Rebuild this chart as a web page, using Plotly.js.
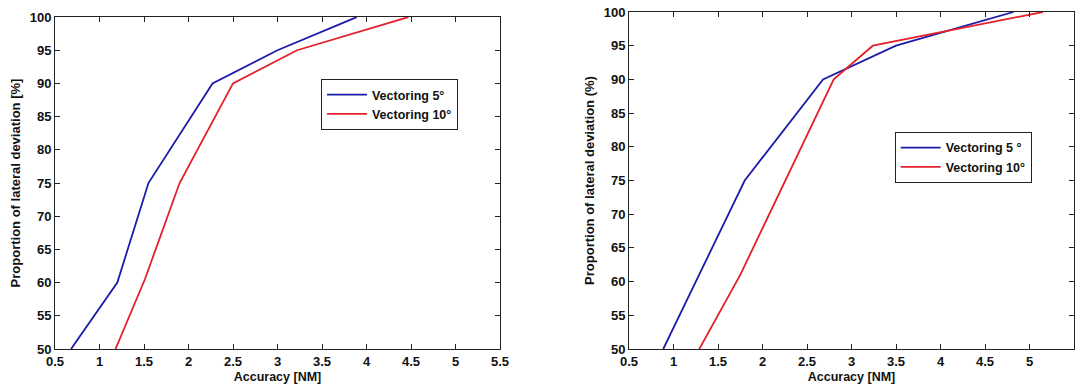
<!DOCTYPE html>
<html>
<head>
<meta charset="utf-8">
<script src="https://cdn.plot.ly/plotly-3.0.1.min.js"></script>
<style>
  html, body { margin: 0; padding: 0; background: #fff; }
  #chart { width: 1082px; height: 387px; }
</style>
</head>
<body>
<div id="chart"></div>
<script>
// Left panel data
const leftAcc5 = [0.68, 1.2, 1.55, 2.27, 3.0, 3.89];
const leftProp5 = [50, 60, 75, 90, 95, 100];
const leftAcc10 = [1.18, 1.51, 1.9, 2.5, 3.22, 4.47];
const leftProp10 = [50, 60.5, 75, 90, 95, 100];

// Right panel data
const rightAcc5 = [0.885, 1.8, 2.68, 3.5, 4.82];
const rightProp5 = [50, 75, 90, 95, 100];
const rightAcc10 = [1.29, 1.75, 2.8, 3.24, 5.15];
const rightProp10 = [50, 61, 90, 95, 100];

// Labels
const leftNames = ["Vectoring 5°", "Vectoring 10°"];
const rightNames = ["Vectoring 5 °", "Vectoring 10°"];
const xTitle = "Accuracy [NM]";
const leftYTitle = "Proportion of lateral deviation [%]";
const rightYTitle = "Proportion of lateral deviation (%)";

const BLUE = "#1c1ca8";
const RED = "#e3202c";
const FONT = "Liberation Sans, Arial, sans-serif";
const b = s => "<b>" + s + "</b>";

const traces = [
  {x: leftAcc5, y: leftProp5, name: b(leftNames[0]), mode: "lines", xaxis: "x", yaxis: "y",
   line: {color: BLUE, width: 1.8}, legend: "legend"},
  {x: leftAcc10, y: leftProp10, name: b(leftNames[1]), mode: "lines", xaxis: "x", yaxis: "y",
   line: {color: RED, width: 1.8}, legend: "legend"},
  {x: rightAcc5, y: rightProp5, name: b(rightNames[0]), mode: "lines", xaxis: "x2", yaxis: "y2",
   line: {color: BLUE, width: 1.8}, legend: "legend2"},
  {x: rightAcc10, y: rightProp10, name: b(rightNames[1]), mode: "lines", xaxis: "x2", yaxis: "y2",
   line: {color: RED, width: 1.8}, legend: "legend2"}
];

function xAx(domain, anchor) {
  return {
    domain: domain, anchor: anchor, range: [0.5, 5.5], dtick: 0.5, tick0: 0.5,
    ticks: "inside", ticklen: 5, tickcolor: "#222", mirror: "allticks",
    showline: true, linecolor: "#222", linewidth: 1, showgrid: false, zeroline: false,
    tickprefix: "<b>", ticksuffix: "</b>",
    tickfont: {family: FONT, size: 13, color: "#111"},
    title: {text: b(xTitle), font: {family: FONT, size: 12.5, color: "#111"}, standoff: 4},
    automargin: false, fixedrange: true
  };
}
function yAx(domain, anchor, title) {
  return {
    domain: domain, anchor: anchor, range: [50, 100], dtick: 5, tick0: 50,
    ticks: "inside", ticklen: 5, tickcolor: "#222", mirror: "allticks",
    showline: true, linecolor: "#222", linewidth: 1, showgrid: false, zeroline: false,
    tickprefix: "<b>", ticksuffix: "</b>",
    tickfont: {family: FONT, size: 13, color: "#111"},
    title: {text: b(title), font: {family: FONT, size: 13, color: "#111"}, standoff: 6},
    automargin: false, fixedrange: true
  };
}

function legendCfg(x, y) {
  return {
    x: x, y: y, xanchor: "left", yanchor: "top",
    bgcolor: "#fff", bordercolor: "#222", borderwidth: 1,
    font: {family: FONT, size: 12.5, color: "#111"},
    itemwidth: 40, tracegroupgap: 0
  };
}

const layout = {
  width: 1082, height: 387,
  margin: {l: 55, r: 8, t: 12, b: 38},
  paper_bgcolor: "#fff", plot_bgcolor: "#fff",
  showlegend: true,
  xaxis: xAx([0, 0.4367], "y"),
  yaxis: yAx([0, 0.985], "x", leftYTitle),
  xaxis2: xAx([0.5633, 1], "y2"),
  yaxis2: yAx([0, 1], "x2", rightYTitle),
  legend: legendCfg(0.261, 0.801),
  legend2: legendCfg(0.824, 0.644)
};

Plotly.newPlot("chart", traces, layout, {displayModeBar: false, staticPlot: true});
</script>
</body>
</html>
